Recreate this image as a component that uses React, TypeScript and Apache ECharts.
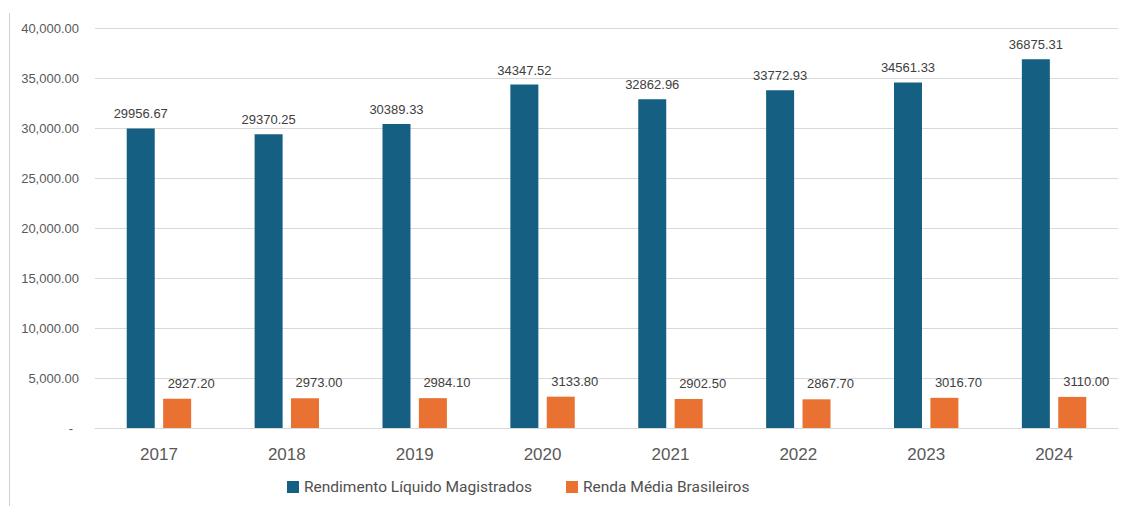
import React, { useEffect, useRef } from "react";
import * as echarts from "echarts";

const categories = ["2017", "2018", "2019", "2020", "2021", "2022", "2023", "2024"];
const magistrados = [29956.67, 29370.25, 30389.33, 34347.52, 32862.96, 33772.93, 34561.33, 36875.31];
const brasileiros = [2927.2, 2973.0, 2984.1, 3133.8, 2902.5, 2867.7, 3016.7, 3110.0];
const seriesNames = ["Rendimento Líquido Magistrados", "Renda Média Brasileiros"];
const colors = ["#156082", "#E97132"];

function fmtAxis(v: number): string {
  if (v === 0) return "{z|-}";
  return v.toLocaleString("en-US", { minimumFractionDigits: 2, maximumFractionDigits: 2 });
}

export default function App() {
  const ref = useRef<HTMLDivElement>(null);
  useEffect(() => {
    if (!ref.current) return;
    const chart = echarts.init(ref.current, null, { renderer: "svg" });
    chart.setOption({
      animation: false,
      backgroundColor: "#ffffff",
      textStyle: { fontFamily: "Liberation Sans, Arial, sans-serif" },
      grid: { left: 95, right: 6, top: 28, bottom: 78, containLabel: false },
      graphic: [
        {
          type: "line",
          shape: { x1: 9.5, y1: 13, x2: 9.5, y2: 506 },
          style: { stroke: "#d0d0d0", lineWidth: 1 },
        },
      ],
      legend: {
        bottom: 6,
        left: 282,
        itemWidth: 12,
        itemHeight: 12,
        itemGap: 34,
        icon: "rect",
        textStyle: {
          fontSize: 15.5,
          color: "#505050",
          fontFamily: "Roboto, sans-serif",
        },
        data: seriesNames,
      },
      xAxis: {
        type: "category",
        data: categories,
        axisLine: { lineStyle: { color: "#d9d9d9" } },
        axisTick: { show: false },
        axisLabel: { fontSize: 17, color: "#595959", margin: 18 },
      },
      yAxis: {
        type: "value",
        min: 0,
        max: 40000,
        interval: 5000,
        axisLine: { show: false },
        axisTick: { show: false },
        splitLine: { lineStyle: { color: "#d9d9d9" } },
        axisLabel: {
          fontSize: 13,
          color: "#595959",
          margin: 16,
          formatter: fmtAxis,
          rich: { z: { fontSize: 13, color: "#595959", padding: [0, 6, 0, 0] } },
        },
      },
      series: [
        {
          name: seriesNames[0],
          type: "bar",
          data: magistrados,
          barWidth: 28,
          barGap: "30%",
          itemStyle: { color: colors[0] },
          label: {
            show: true,
            position: "top",
            distance: 8,
            fontSize: 13,
            color: "#404040",
            formatter: (p: any) => p.value.toFixed(2),
          },
        },
        {
          name: seriesNames[1],
          type: "bar",
          data: brasileiros,
          barWidth: 28,
          barGap: "30%",
          itemStyle: { color: colors[1] },
          label: {
            show: true,
            position: "top",
            distance: 9,
            offset: [14, 0],
            fontSize: 13,
            color: "#404040",
            formatter: (p: any) => p.value.toFixed(2),
          },
        },
      ],
    });
    return () => chart.dispose();
  }, []);
  return (
    <div
      ref={ref}
      style={{ position: "fixed", left: 0, top: 0, width: 1124, height: 506 }}
    />
  );
}
